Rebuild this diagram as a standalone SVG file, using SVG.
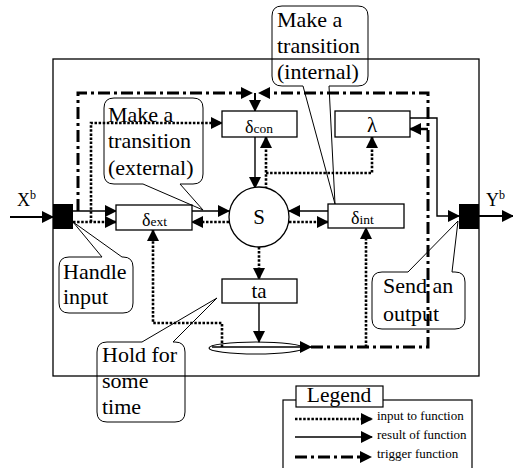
<svg xmlns="http://www.w3.org/2000/svg" width="513" height="468" viewBox="0 0 513 468" font-family="'Liberation Serif', 'Times New Roman', serif">
<style>
  text { font-family: "Liberation Serif", "Times New Roman", serif; fill: #000; }
  .box { fill: #fff; stroke: #000; stroke-width: 1.3; }
  .res { fill: none; stroke: #000; stroke-width: 1.4; marker-end: url(#ah); }
  .inp { fill: none; stroke: #000; stroke-width: 2.6; stroke-dasharray: 2.5 1.6; marker-end: url(#ah); }
  .trg { fill: none; stroke: #000; stroke-width: 3; stroke-dasharray: 12 4 3 4; }
  .call { fill: none; stroke: #000; stroke-width: 1; }
  .lbl { font-family: "Liberation Serif", "Times New Roman", serif; font-size: 21px; text-anchor: middle; }
  .ct { font-family: "Liberation Serif", "Times New Roman", serif; font-size: 22px; }
  .lg { font-family: "Liberation Serif", "Times New Roman", serif; font-size: 13px; }
  .dl { font-family: "Liberation Serif", "Times New Roman", serif; font-size: 18px; }
  .sub { font-size: 13.5px; }
</style>
<defs>
  <marker id="ah" markerUnits="userSpaceOnUse" markerWidth="12" markerHeight="12" refX="11" refY="6" orient="auto" viewBox="0 0 12 12">
    <path d="M0,0 L12,6 L0,12 Z" fill="#000"/>
  </marker>
</defs>

<rect id="frame" x="53" y="59" width="426" height="317" fill="none" stroke="#000" stroke-width="1.3"/>

<g id="connectors">
  <line class="res" x1="10" y1="217" x2="53" y2="217" style="stroke-width:2"/>
  <line class="res" x1="479" y1="216" x2="513" y2="216" style="stroke-width:2"/>
  <line class="res" x1="73" y1="211" x2="116" y2="211"/>
  <line class="res" x1="192" y1="211" x2="229" y2="211"/>
  <line class="res" x1="255" y1="137" x2="255" y2="188"/>
  <line class="res" x1="328" y1="211" x2="289" y2="211"/>
  <line class="res" x1="259" y1="303" x2="259" y2="342"/>
  <polyline class="res" points="410,118 437,118 437,216 459,216"/>
  <line class="res" x1="212" y1="347" x2="311" y2="347"/>
  <line class="inp" x1="73" y1="222" x2="116" y2="222"/>
  <polyline class="inp" points="91,222 91,123 222,123"/>
  <line class="inp" x1="229" y1="222" x2="192" y2="222"/>
  <polyline class="inp" points="222,347 222,323 153,323 153,230"/>
  <line class="inp" x1="289" y1="222" x2="328" y2="222"/>
  <line class="inp" x1="366" y1="347" x2="366" y2="228"/>
  <line class="inp" x1="266" y1="189" x2="266" y2="137"/>
  <polyline class="inp" points="266,173 372,173 372,137"/>
  <line class="inp" x1="259" y1="247" x2="259" y2="279"/>
  <polyline class="trg" points="78,211 78,93 243,93"/>
  <path d="M241,87 L253,93 L241,99 Z" fill="#000"/>
  <polyline class="trg" points="311,347 428,347 428,93 268,93"/>
  <path d="M270,87 L258,93 L270,99 Z" fill="#000"/>
  <line class="res" x1="255" y1="93" x2="255" y2="111" style="stroke-width:2"/>
  <line class="res" x1="428" y1="129" x2="410" y2="129" style="stroke-width:2.5"/>
</g>

<g id="input-port"><rect x="53" y="204" width="20" height="25" fill="#000"/></g>
<g id="output-port"><rect x="459" y="204" width="20" height="25" fill="#000"/></g>

<g id="xb-label"><text x="17" y="206" font-size="18">X<tspan font-size="12" dy="-7">b</tspan></text></g>
<g id="yb-label"><text x="486" y="206" font-size="18">Y<tspan font-size="12" dy="-7">b</tspan></text></g>

<g id="d-ext"><rect class="box" x="116" y="205" width="76" height="25"/><text class="dl" x="142" y="226">δ<tspan class="sub">ext</tspan></text></g>
<g id="d-con"><rect class="box" x="222" y="111" width="75" height="26"/><text class="dl" x="245" y="133">δ<tspan class="sub">con</tspan></text></g>
<g id="lambda"><rect class="box" x="335" y="111" width="75" height="26"/><text class="lbl" x="372" y="132">λ</text></g>
<g id="d-int"><rect class="box" x="328" y="204" width="76" height="24"/><text class="dl" x="351" y="224">δ<tspan class="sub">int</tspan></text></g>
<g id="s"><circle cx="259" cy="217" r="30" fill="#fff" stroke="#000" stroke-width="1.3"/><text class="lbl" x="259" y="224">S</text></g>
<g id="ta"><rect class="box" x="222" y="279" width="75" height="24"/><text class="lbl" x="259" y="298">ta</text></g>
<g id="hold"><ellipse cx="256" cy="348" rx="47" ry="6" fill="none" stroke="#000" stroke-width="1.2"/></g>

<g id="callout-external">
  <path class="call" d="M114,98 H193 Q203,98 203,108 V174 Q203,184 193,184 H180 L203,210 L143,184 H114 Q104,184 104,174 V108 Q104,98 114,98 Z"/>
  <text class="ct" x="108" y="122">Make a</text>
  <text class="ct" x="108" y="148">transition</text>
  <text class="ct" x="108" y="175">(external)</text>
</g>
<g id="callout-internal">
  <path class="call" d="M282,6 H358 Q368,6 368,16 V76 Q368,86 358,86 H329 L335,204 L303,86 H282 Q272,86 272,76 V16 Q272,6 282,6 Z"/>
  <text class="ct" x="277" y="27">Make a</text>
  <text class="ct" x="277" y="53">transition</text>
  <text class="ct" x="277" y="79">(internal)</text>
</g>
<g id="callout-handle">
  <path class="call" d="M69,257 H102 L73,222 L122,257 H123 Q133,257 133,267 V303 Q133,313 123,313 H69 Q59,313 59,303 V267 Q59,257 69,257 Z"/>
  <text class="ct" x="63" y="279">Handle</text>
  <text class="ct" x="63" y="304">input</text>
</g>
<g id="callout-hold">
  <path class="call" d="M107,342 H142 L217,298 L173,342 H175 Q185,342 185,352 V412 Q185,422 175,422 H107 Q97,422 97,412 V352 Q97,342 107,342 Z"/>
  <text class="ct" x="102" y="362">Hold for</text>
  <text class="ct" x="102" y="388">some</text>
  <text class="ct" x="102" y="414">time</text>
</g>
<g id="callout-send">
  <path class="call" d="M382,272 H408 L458,221 L452,272 H455 Q465,272 465,282 V319 Q465,329 455,329 H382 Q372,329 372,319 V282 Q372,272 382,272 Z"/>
  <text class="ct" x="383" y="293">Send an</text>
  <text class="ct" x="383" y="321">output</text>
</g>

<g id="legend">
  <rect x="283" y="400" width="189" height="75" fill="none" stroke="#000" stroke-width="1.2"/>
  <rect x="296" y="386" width="87" height="21" fill="#fff" stroke="#000" stroke-width="1.2"/>
  <text x="339" y="402" font-size="21.5" text-anchor="middle">Legend</text>
  <line class="inp" x1="295" y1="419" x2="372" y2="419"/>
  <text class="lg" x="377" y="420">input to function</text>
  <line class="res" x1="295" y1="437" x2="372" y2="437"/>
  <text class="lg" x="377" y="439">result of function</text>
  <line class="trg" x1="295" y1="457" x2="362" y2="457"/>
  <path d="M360,451 L372,457 L360,463 Z" fill="#000"/>
  <text class="lg" x="377" y="458">trigger function</text>
</g>
</svg>
